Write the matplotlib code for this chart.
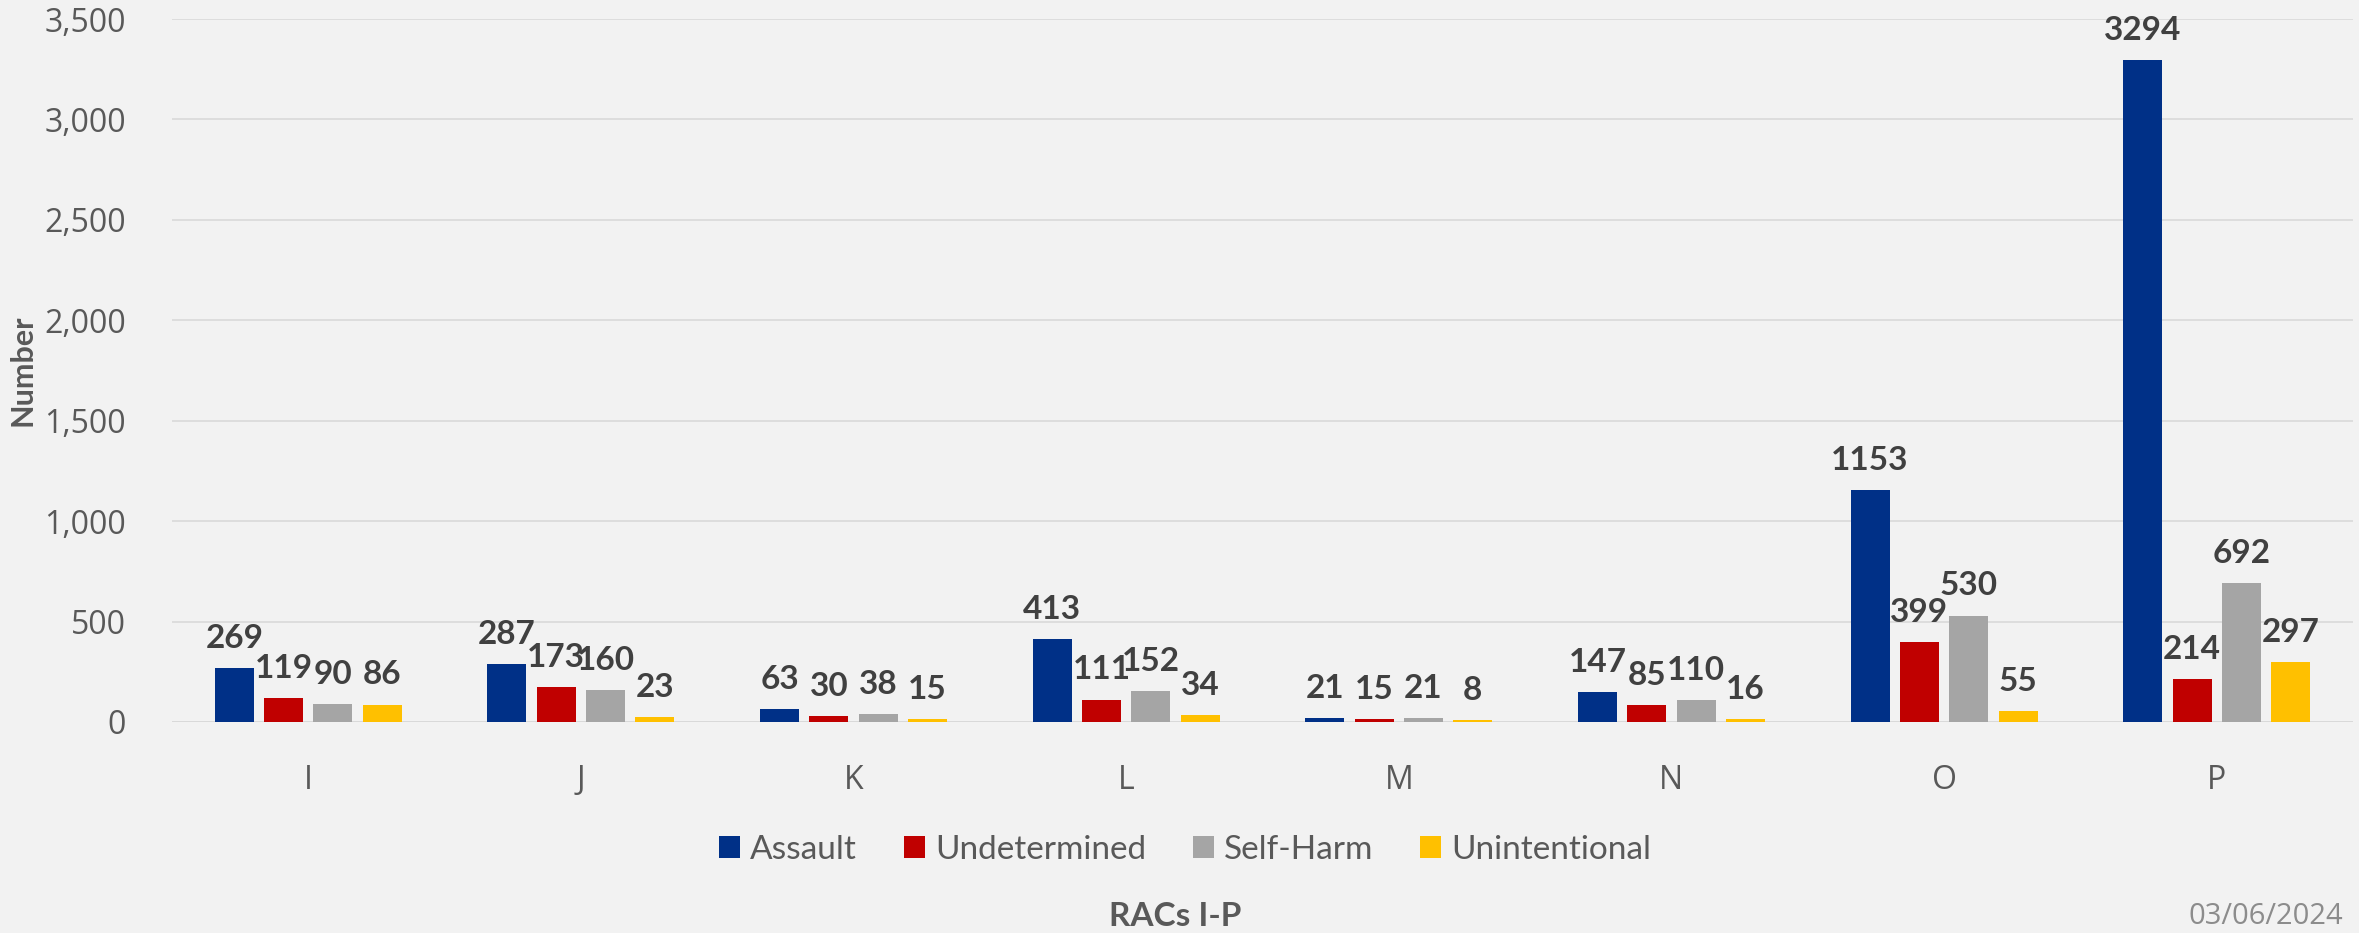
import matplotlib
matplotlib.use("Agg")
import matplotlib.pyplot as plt
from matplotlib.patches import Patch
from matplotlib.ticker import FuncFormatter
import numpy as np

# Data: deaths by manner, per RAC
categories = ["I", "J", "K", "L", "M", "N", "O", "P"]
series_names = ["Assault", "Undetermined", "Self-Harm", "Unintentional"]
assault = [269, 287, 63, 413, 21, 147, 1153, 3294]
undetermined = [119, 173, 30, 111, 15, 85, 399, 214]
self_harm = [90, 160, 38, 152, 21, 110, 530, 692]
unintentional = [86, 23, 15, 34, 8, 16, 55, 297]
colors = ["#003087", "#C00000", "#A5A5A5", "#FFC000"]
y_ticks = [0, 500, 1000, 1500, 2000, 2500, 3000, 3500]
x_title = "RACs I-P"
y_title = "Number"
date_stamp = "03/06/2024"

BG = "#F2F2F2"
W, H = 2359, 933
fig = plt.figure(figsize=(W / 100, H / 100), dpi=100, facecolor=BG)
ax = fig.add_axes([172 / W, 1 - 722 / H, (2353 - 172) / W, (722 - 19) / H])
ax.set_facecolor(BG)

values = [assault, undetermined, self_harm, unintentional]
x = np.arange(len(categories))
stride = 0.181
width = 0.143
for i, (vals, col) in enumerate(zip(values, colors)):
    pos = x + (i - 1.5) * stride
    bars = ax.bar(pos, vals, width=width, color=col, zorder=3, linewidth=0)
    ax.bar_label(bars, labels=[str(v) for v in vals], padding=11,
                 fontsize=24, fontweight="bold", color="#404040",
                 family="Lato", zorder=4)

ax.set_xlim(-0.5, len(categories) - 0.5)
ax.set_ylim(0, 3500)
ax.set_yticks(y_ticks)
ax.yaxis.set_major_formatter(FuncFormatter(lambda v, p: f"{int(v):,}"))
ax.set_xticks(x)
ax.set_xticklabels(categories)
ax.grid(axis="y", color="#D9D9D9", linewidth=1.2, zorder=0)
ax.axhline(0, color="#D9D9D9", linewidth=1.8, zorder=2)
for s in ax.spines.values():
    s.set_visible(False)
ax.tick_params(axis="both", length=0, colors="#595959", labelsize=23)
ax.tick_params(axis="y", pad=33)
ax.tick_params(axis="x", pad=30)
for lab in ax.get_xticklabels() + ax.get_yticklabels():
    lab.set_family("Open Sans")

fig.text(22 / W, 1 - 370 / H, y_title, rotation=90, ha="center", va="center",
         fontsize=22, fontweight="bold", color="#595959", family="Lato")

handles = [Patch(facecolor=c, edgecolor="none") for c in colors]
fig.legend(handles, series_names, loc="center", bbox_to_anchor=(1185 / W, 1 - 850 / H),
           ncol=4, frameon=False, handlelength=0.64, handleheight=0.64,
           handletextpad=0.3, columnspacing=1.4,
           prop={"family": "Lato", "size": 24}, labelcolor="#595959")

fig.text(1175 / W, 1 - 917 / H, x_title, ha="center", va="center",
         fontsize=24, fontweight="bold", color="#595959", family="Lato")
fig.text(2343 / W, 1 - 917 / H, date_stamp, ha="right", va="center",
         fontsize=21, color="#8C8C8C", family="Open Sans")

fig.savefig("out.png", dpi=100, facecolor=BG)
